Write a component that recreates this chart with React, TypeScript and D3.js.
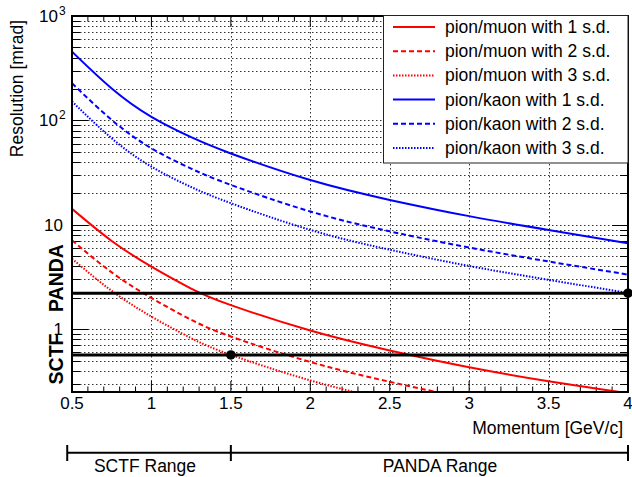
import React from "react";
import * as d3 from "d3";

// ---- data ----
const momenta = [0.5, 0.75, 1, 1.25, 1.5, 2, 2.5, 3, 3.5, 4];
const piMu1 = [14.2, 7.0, 3.97, 2.45, 1.7, 0.97, 0.625, 0.432, 0.317, 0.243];
const piMu2 = [7.1, 3.5, 1.99, 1.23, 0.85, 0.485, 0.313, 0.216, 0.159, 0.122];
const piMu3 = [4.73, 2.33, 1.32, 0.82, 0.567, 0.323, 0.208, 0.144, 0.106, 0.081];
const piK1 = [455, 202, 108, 69, 48.2, 26.8, 17.3, 12.1, 8.9, 6.65];
const piK2 = [227, 101, 54, 34.5, 24.1, 13.4, 8.65, 6.05, 4.45, 3.33];
const piK3 = [152, 67.3, 36, 23, 16.1, 8.93, 5.77, 4.03, 2.97, 2.22];

const seriesLabels = [
  "pion/muon with 1 s.d.",
  "pion/muon with 2 s.d.",
  "pion/muon with 3 s.d.",
  "pion/kaon with 1 s.d.",
  "pion/kaon with 2 s.d.",
  "pion/kaon with 3 s.d.",
];
const seriesValues = [piMu1, piMu2, piMu3, piK1, piK2, piK3];

const xTickValues = [0.5, 1, 1.5, 2, 2.5, 3, 3.5, 4];
const xTickLabels = ["0.5", "1", "1.5", "2", "2.5", "3", "3.5", "4"];
const yMajorValues = [1, 10, 100, 1000];
const yMajorLabels = [["1", ""], ["10", ""], ["10", "2"], ["10", "3"]];

const thresholdNames = ["PANDA", "SCTF"];
const thresholdValues = [2.21, 0.566];
const thresholdMomenta = [4, 1.5];

const rangeNames = ["SCTF Range", "PANDA Range"];
const rangeStarts = [0.47, 1.5];
const rangeEnds = [1.5, 4.0];

// ---- styles ----
const colors = ["#ff0000", "#ff0000", "#ff0000", "#0000ff", "#0000ff", "#0000ff"];
const dashes = [undefined, "5,3", "1.5,1.5", undefined, "5,3", "1.5,1.5"];

const FONT = "'Liberation Sans', Arial, Helvetica, sans-serif";

export default function App() {
  const L = 72, R = 628, T = 16, B = 392;
  const x = d3.scaleLinear().domain([0.5, 4]).range([L, R]);
  const y = d3.scaleLog().domain([0.25, 1000]).range([B, T]);

  const line = d3
    .line<number>()
    .x((_, i) => x(momenta[i]))
    .y((d) => y(d))
    .curve(d3.curveNatural);

  // log grid values
  const gridY: { v: number; major: boolean }[] = [];
  for (let d = -1; d <= 2; d++) {
    for (let k = 1; k <= 9; k++) {
      const v = k * Math.pow(10, d);
      if (v > 0.25 && v < 1000) gridY.push({ v, major: k === 1 });
    }
  }
  const minorX = d3.range(5, 41).map((i) => i / 10).filter((v) => Math.abs(v * 2 - Math.round(v * 2)) > 1e-6);
  const gridX = xTickValues.filter((v) => v > 0.5 && v < 4);

  const gridDash = "1.5,2.5";
  const legendY0 = 27;
  const legendStep = 24.2;

  return (
    <svg
      width={632}
      height={477}
      style={{ position: "absolute", left: 0, top: 0, background: "#fff" }}
      fontFamily={FONT}
    >
      <defs>
        <clipPath id="plotclip">
          <rect x={L} y={T} width={R - L} height={B - T} />
        </clipPath>
      </defs>
      <rect x={0} y={0} width={632} height={477} fill="#fff" />

      {/* grid */}
      <g stroke="#333" strokeWidth={1} strokeDasharray={gridDash}>
        {gridY.map((g, i) => (
          <line key={"gy" + i} x1={L} x2={R} y1={Math.round(y(g.v)) + 0.5} y2={Math.round(y(g.v)) + 0.5} />
        ))}
        {gridX.map((v, i) => (
          <line key={"gx" + i} x1={Math.round(x(v)) + 0.5} x2={Math.round(x(v)) + 0.5} y1={T} y2={B} />
        ))}
      </g>

      {/* ticks */}
      <g stroke="#000" strokeWidth={1}>
        {gridY.map((g, i) => {
          const yy = Math.round(y(g.v)) + 0.5;
          const len = g.major ? 16 : 8;
          return (
            <g key={"yt" + i}>
              <line x1={L} x2={L + len} y1={yy} y2={yy} />
              <line x1={R} x2={R - len} y1={yy} y2={yy} />
            </g>
          );
        })}
        {xTickValues.map((v, i) => (
          <g key={"xt" + i}>
            <line x1={x(v)} x2={x(v)} y1={B} y2={B - 11} />
            <line x1={x(v)} x2={x(v)} y1={T} y2={T + 11} />
          </g>
        ))}
        {minorX.map((v, i) => (
          <g key={"xm" + i}>
            <line x1={x(v)} x2={x(v)} y1={B} y2={B - 5.5} />
            <line x1={x(v)} x2={x(v)} y1={T} y2={T + 5.5} />
          </g>
        ))}
      </g>

      {/* curves */}
      <g clipPath="url(#plotclip)" fill="none">
        {seriesValues.map((vals, i) => (
          <path
            key={"s" + i}
            d={line(vals) || ""}
            stroke={colors[i]}
            strokeWidth={2}
            strokeDasharray={dashes[i]}
          />
        ))}
      </g>

      {/* threshold lines */}
      {thresholdValues.map((v, i) => (
        <g key={"th" + i}>
          <line x1={L} x2={R} y1={y(v)} y2={y(v)} stroke="#000" strokeWidth={3} />
          <circle cx={x(thresholdMomenta[i])} cy={y(v)} r={4.8} fill="#000" />
        </g>
      ))}

      {/* frame */}
      <rect x={L} y={T} width={R - L} height={B - T} fill="none" stroke="#000" strokeWidth={2} />

      {/* legend */}
      <g>
        <rect x={383.5} y={15.5} width={244.5} height={147.5} fill="#fff" stroke="#222" strokeWidth={1} />
        {seriesLabels.map((lab, i) => {
          const cy = legendY0 + i * legendStep;
          return (
            <g key={"lg" + i}>
              <line x1={393} x2={435} y1={cy} y2={cy} stroke={colors[i]} strokeWidth={2} strokeDasharray={dashes[i]} />
              <text x={445} y={cy + 6} fontSize={17.5} fill="#000">
                {lab}
              </text>
            </g>
          );
        })}
      </g>

      {/* x tick labels */}
      {xTickValues.map((v, i) => (
        <text key={"xl" + i} x={x(v)} y={B + 17} fontSize={17} textAnchor="middle" fill="#000">
          {xTickLabels[i]}
        </text>
      ))}

      {/* y tick labels */}
      {yMajorValues.map((v, i) => {
        const [base, sup] = yMajorLabels[i];
        return (
          <text key={"yl" + i} x={sup ? 58 : 63} y={y(v) + 6} fontSize={17} textAnchor="end" fill="#000">
            {base}
            {sup ? (
              <tspan x={59} dy={-7} fontSize={12} textAnchor="start">
                {sup}
              </tspan>
            ) : null}
          </text>
        );
      })}

      {/* axis titles */}
      <text x={623} y={434} fontSize={17.5} textAnchor="end" fill="#000">
        Momentum [GeV/c]
      </text>
      <text transform="translate(23,20) rotate(-90)" fontSize={17.5} textAnchor="end" fill="#000">
        Resolution [mrad]
      </text>

      {/* threshold labels */}
      <text transform="translate(63,278) rotate(-90)" fontSize={19.5} fontWeight="bold" textAnchor="middle" fill="#000">
        {thresholdNames[0]}
      </text>
      <text transform="translate(63,359) rotate(-90)" fontSize={19.5} fontWeight="bold" textAnchor="middle" fill="#000">
        {thresholdNames[1]}
      </text>

      {/* range bar */}
      <g stroke="#000" strokeWidth={2}>
        <line x1={x(rangeStarts[0])} x2={x(rangeEnds[1])} y1={452.7} y2={452.7} />
        {[rangeStarts[0], rangeEnds[0], rangeEnds[1]].map((v, i) => (
          <line key={"rb" + i} x1={x(v)} x2={x(v)} y1={445} y2={461} />
        ))}
      </g>
      <text x={145} y={472} fontSize={17.5} textAnchor="middle" fill="#000">
        {rangeNames[0]}
      </text>
      <text x={440} y={472} fontSize={17.5} textAnchor="middle" fill="#000">
        {rangeNames[1]}
      </text>
    </svg>
  );
}
